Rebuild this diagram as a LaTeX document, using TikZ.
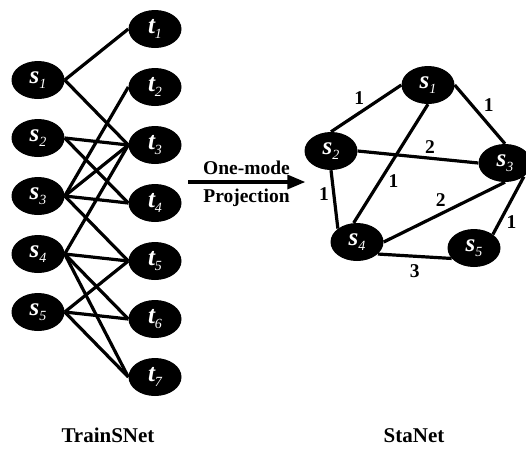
\documentclass[tikz,border=0pt]{standalone}
\usepackage{fontspec}
\setmainfont{Liberation Serif}
\usetikzlibrary{shapes.geometric, positioning, arrows}
\tikzset{
  x=1pt, y=-1pt,
  node distance=58pt,
  every node/.style={font=\bfseries\fontsize{19.5}{22}\selectfont},
  vertex/.style={ellipse, fill=black, text=white, minimum width=53pt,
    minimum height=38pt, inner sep=0pt},
  link/.style={line width=3.2pt},
  title/.style={font=\bfseries\fontsize{21}{24}\selectfont},
}
\newcommand{\vlab}[2]{{\fontsize{25}{28}\selectfont\itshape #1}\raisebox{-5pt}{\fontsize{14}{14}\selectfont\mdseries\itshape #2}}

\begin{document}
\begin{tikzpicture}
		\useasboundingbox (0,0) rectangle (526,448);

		% left columns
		\node[vertex] (s1) at (38,80) {\vlab{s}{1}};
		\node[vertex, below of=s1] (s2) {\vlab{s}{2}};
		\node[vertex, below of=s2] (s3) {\vlab{s}{3}};
		\node[vertex, below of=s3] (s4) {\vlab{s}{4}};
		\node[vertex, below of=s4] (s5) {\vlab{s}{5}};

		\node[vertex] (t1) at (155,29) {\vlab{t}{1}};
		\node[vertex, below of=t1] (t2) {\vlab{t}{2}};
		\node[vertex, below of=t2] (t3) {\vlab{t}{3}};
		\node[vertex, below of=t3] (t4) {\vlab{t}{4}};
		\node[vertex, below of=t4] (t5) {\vlab{t}{5}};
		\node[vertex, below of=t5] (t6) {\vlab{t}{6}};
		\node[vertex, below of=t6] (t7) {\vlab{t}{7}};

		% bipartite links
		\draw[link] (s1.east) edge (t1.west)
		(s1.east) edge (t3.west)
		(s2.east) edge (t3.west)
		(s2.east) edge (t4.west)
		(s3.east) edge (t2.west)
		(s3.east) edge (t3.west)
		(s3.east) edge (t4.west)
		(s3.east) edge (t5.west)
		(s4.east) edge (t3.west)
		(s4.east) edge (t5.west)
		(s4.east) edge (t6.west)
		(s4.east) edge (t7.west)
		(s5.east) edge (t5.west)
		(s5.east) edge (t6.west)
		(s5.east) edge (t7.west);

		% projection arrow
		\coordinate (pa) at (188,182);
		\coordinate (pb) at (305,182);
		\draw[link, -triangle 45] (pa) -- node[above, yshift=2pt]{One-mode} node[below, yshift=-2pt]{Projection} (pb);

		% projected network
		\node[vertex] (r1) at (428,85) {\vlab{s}{1}};
		\node[vertex] (r2) at (331,151) {\vlab{s}{2}};
		\node[vertex] (r3) at (505,163) {\vlab{s}{3}};
		\node[vertex] (r4) at (357,242) {\vlab{s}{4}};
		\node[vertex] (r5) at (474,248) {\vlab{s}{5}};

		\draw[link] (r1.west) edge node[above left, xshift=3pt, yshift=-1pt]{1} (r2.north)
		(r1.east) edge node[above right, xshift=-1pt, yshift=-2pt]{1} (r3.north)
		(r2.east) edge node[pos=0.6, above]{2} (r3.west)
		(r1.south) edge node[pos=0.65, right, xshift=4pt]{1} (r4.100)
		(r2.south) edge node[pos=0.4, left]{1} (r4.145)
		(r4.east) edge node[pos=0.47, above, yshift=2pt]{2} (r3.south)
		(r3.south east) edge node[pos=0.78, right, xshift=2pt]{1} (r5.north east)
		(r4.-30) edge node[below, yshift=-3pt]{3} (r5.205);

		% titles
		\node[title] (trainsnet) at (108,435) {TrainSNet};
		\node[title] (stanet) at (414,436) {StaNet};
	\end{tikzpicture}
\end{document}
